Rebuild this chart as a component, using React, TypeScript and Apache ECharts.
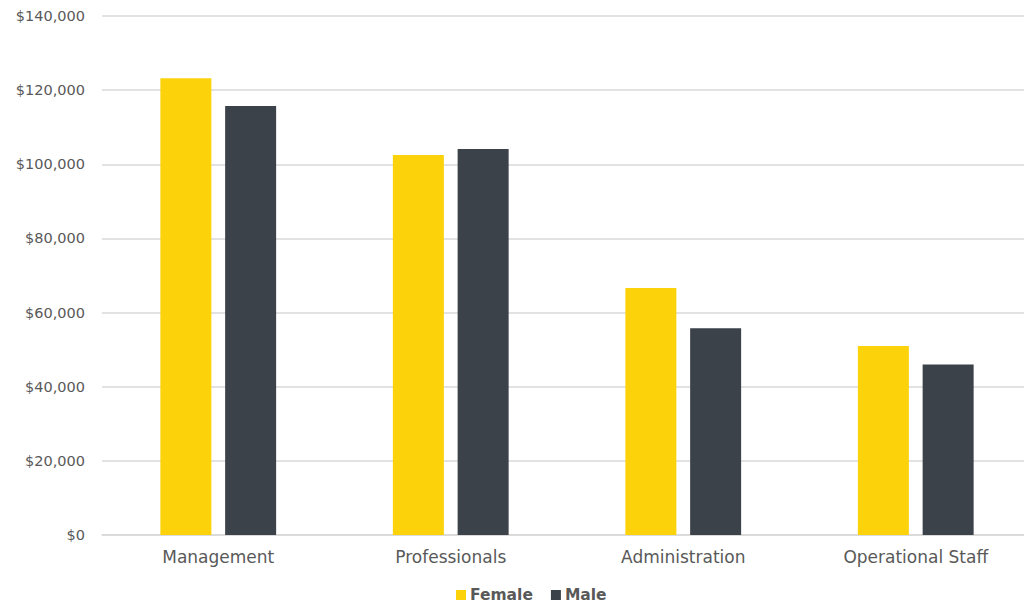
import React, { useEffect, useRef } from "react";
import * as echarts from "echarts";

const categories = ["Management", "Professionals", "Administration", "Operational Staff"];
const female = [123200, 102500, 66600, 51000];
const male = [115700, 104100, 55800, 46000];
const seriesNames = ["Female", "Male"];

const FONT = "'DejaVu Sans', sans-serif";

export default function App() {
  const ref = useRef<HTMLDivElement>(null);
  useEffect(() => {
    const chart = echarts.init(ref.current!, null, { renderer: "svg" });
    chart.setOption({
      animation: false,
      backgroundColor: "#ffffff",
      textStyle: { fontFamily: FONT },
      grid: { left: 102, right: 0, top: 16, bottom: 75 },
      legend: {
        data: seriesNames,
        bottom: 2,
        left: 451,
        itemWidth: 10,
        itemHeight: 10,
        itemGap: 18,
        icon: "rect",
        textStyle: { fontFamily: FONT, fontSize: 15.5, fontWeight: "bold", color: "#595959", padding: [0, 0, 0, -1] },
      },
      xAxis: {
        type: "category",
        data: categories,
        axisLine: { lineStyle: { color: "#D9D9D9", width: 1.5 } },
        axisTick: { show: false },
        axisLabel: { color: "#595959", fontSize: 17, margin: 13, fontFamily: FONT },
      },
      yAxis: {
        type: "value",
        min: 0,
        max: 140000,
        interval: 20000,
        axisLine: { show: false },
        axisTick: { show: false },
        splitLine: { lineStyle: { color: "#D9D9D9", width: 1.5 } },
        axisLabel: {
          color: "#595959",
          fontSize: 14.5,
          margin: 17,
          fontFamily: FONT,
          formatter: (v: number) => "$" + v.toLocaleString("en-US"),
        },
      },
      series: [
        {
          name: seriesNames[0],
          type: "bar",
          data: female,
          barWidth: 51,
          barGap: "27%",
          itemStyle: { color: "#FCD20B" },
        },
        {
          name: seriesNames[1],
          type: "bar",
          data: male,
          barWidth: 51,
          itemStyle: { color: "#3B4249" },
        },
      ],
    });
    return () => chart.dispose();
  }, []);
  return (
    <div
      ref={ref}
      style={{ position: "fixed", left: 0, top: 0, width: 1032, height: 610 }}
    />
  );
}
